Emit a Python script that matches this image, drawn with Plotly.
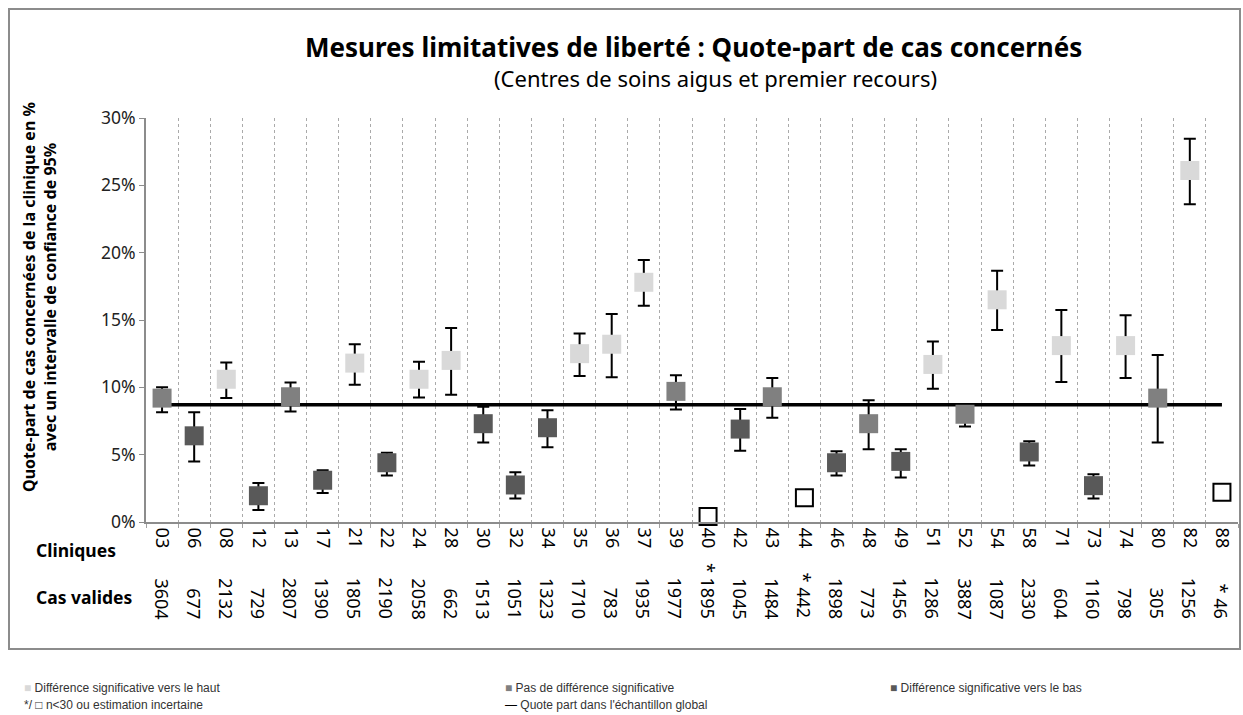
import plotly.graph_objects as go

# Clinic codes, valid cases (with * = n<30 / uncertain), rates and 95% CI (in %)
clinics = ["03", "06", "08", "12", "13", "17", "21", "22", "24", "28", "30", "32",
           "34", "35", "36", "37", "39", "40", "42", "43", "44", "46", "48", "49",
           "51", "52", "54", "58", "71", "73", "74", "80", "82", "88"]
cas_valides = ["3604", "677", "2132", "729", "2807", "1390", "1805", "2190", "2058",
               "662", "1513", "1051", "1323", "1710", "783", "1935", "1977", "* 1895",
               "1045", "1484", "* 442", "1898", "773", "1456", "1286", "3887", "1087",
               "2330", "604", "1160", "798", "305", "1256", "* 46"]
rate = [9.2, 6.4, 10.6, 1.95, 9.3, 3.1, 11.8, 4.4, 10.6, 12.0, 7.3, 2.75,
        7.0, 12.5, 13.2, 17.8, 9.7, 0.4, 6.9, 9.3, 1.8, 4.4, 7.3, 4.5,
        11.7, 8.0, 16.5, 5.2, 13.1, 2.7, 13.1, 9.2, 26.1, 2.2]
ci_low = [8.15, 4.5, 9.2, 0.9, 8.2, 2.15, 10.2, 3.45, 9.25, 9.45, 5.9, 1.75,
          5.55, 10.85, 10.75, 16.05, 8.35, None, 5.3, 7.75, None, 3.45, 5.4, 3.3,
          9.9, 7.1, 14.25, 4.2, 10.4, 1.75, 10.7, 5.9, 23.6, None]
ci_high = [10.0, 8.15, 11.85, 2.9, 10.35, 3.85, 13.2, 5.15, 11.9, 14.4, 8.55, 3.7,
           8.3, 14.0, 15.45, 19.45, 10.9, None, 8.4, 10.7, None, 5.25, 9.05, 5.4,
           13.4, 8.75, 18.65, 6.0, 15.75, 3.55, 15.35, 12.4, 28.45, None]
# haut = higher, pas = no difference, bas = lower, inc = uncertain
group = ["pas", "bas", "haut", "bas", "pas", "bas", "haut", "bas", "haut", "haut",
         "bas", "bas", "bas", "haut", "haut", "haut", "pas", "inc", "bas", "pas",
         "inc", "bas", "pas", "bas", "haut", "pas", "haut", "bas", "haut", "bas",
         "haut", "pas", "haut", "inc"]
overall = 8.7

_COLORS = {"haut": "#d9d9d9", "pas": "#808080", "bas": "#595959"}
_FONT = "Noto Sans, Open Sans, sans-serif"
_LEG_FONT = "Liberation Sans Narrow, Arial Narrow, Liberation Sans, sans-serif"

W, H = 1243, 715
L, R, T, B = 146, 1238, 118, 522


def px(x):
    return (x - L) / (R - L)


def py(y):
    return (B - y) / (B - T)


fig = go.Figure()

# overall sample rate line
fig.add_trace(go.Scatter(
    x=clinics, y=[overall] * len(clinics), mode="lines",
    line=dict(color="black", width=3.5), hoverinfo="skip", showlegend=False,
))

for key, color in _COLORS.items():
    idx = [i for i, g in enumerate(group) if g == key]
    fig.add_trace(go.Scatter(
        x=[clinics[i] for i in idx],
        y=[rate[i] for i in idx],
        mode="markers",
        marker=dict(symbol="square", size=19, color=color, line=dict(width=0)),
        error_y=dict(
            type="data", symmetric=False,
            array=[ci_high[i] - rate[i] for i in idx],
            arrayminus=[rate[i] - ci_low[i] for i in idx],
            color="black", thickness=2, width=6,
        ),
        cliponaxis=False, showlegend=False,
    ))

idx = [i for i, g in enumerate(group) if g == "inc"]
fig.add_trace(go.Scatter(
    x=[clinics[i] for i in idx],
    y=[rate[i] for i in idx],
    mode="markers",
    marker=dict(symbol="square", size=17, color="white",
                line=dict(color="black", width=2)),
    cliponaxis=False, showlegend=False,
))

annotations = [
    dict(x=px(693), y=py(47), text="<b>Mesures limitatives de liberté : Quote-part de cas concernés</b>",
         font=dict(size=26, color="black")),
    dict(x=px(715), y=py(78), text="(Centres de soins aigus et premier recours)",
         font=dict(size=22, color="black")),
    dict(x=px(39), y=py(297), textangle=-90,
         text="<b>Quote-part de cas concernées de la clinique en %<br>avec un intervalle de confiance de 95%</b>",
         font=dict(size=16, color="black")),
    dict(x=px(34), y=py(550), xanchor="left", text="<b>Cliniques</b>",
         font=dict(size=17.5, color="black")),
    dict(x=px(34), y=py(597), xanchor="left", text="<b>Cas valides</b>",
         font=dict(size=17.5, color="black")),
]
for k in range(len(annotations)):
    annotations[k].setdefault("xanchor", "center")
    annotations[k].update(xref="paper", yref="paper", yanchor="middle", showarrow=False)

# category index positions (codes like "03" would be read as numbers)
for i, n in enumerate(cas_valides):
    annotations.append(dict(
        x=i, xref="x", y=py(621), yref="paper", text=n, textangle=90,
        xanchor="center", yanchor="bottom", showarrow=False,
        font=dict(size=18, color="black"),
    ))

legend_items = [
    (22, 688, f"<span style='color:{_COLORS['haut']}'>■</span> Différence significative vers le haut"),
    (503, 688, f"<span style='color:{_COLORS['pas']}'>■</span> Pas de différence significative"),
    (888, 688, f"<span style='color:{_COLORS['bas']}'>■</span> Différence significative vers le bas"),
    (22, 705, "*/ □ n<30 ou estimation incertaine"),
    (503, 705, "<span style='color:black'>—</span> Quote part dans l'échantillon global"),
]
for x0, y0, t in legend_items:
    annotations.append(dict(
        x=px(x0), y=py(y0), xref="paper", yref="paper", text=t,
        xanchor="left", yanchor="middle", showarrow=False,
        font=dict(size=12, color="#333333", family=_LEG_FONT),
    ))

fig.update_layout(
    width=W, height=H,
    margin=dict(l=L, r=W - R, t=T, b=H - B),
    plot_bgcolor="white", paper_bgcolor="white",
    font=dict(family=_FONT, color="black"),
    annotations=annotations,
    shapes=[dict(type="rect", xref="paper", yref="paper",
                 x0=px(9), x1=px(1240), y0=py(9), y1=py(649),
                 line=dict(color="#8c8c8c", width=2))],
    xaxis=dict(
        type="category", categoryorder="array", categoryarray=clinics,
        range=[-0.5, len(clinics) - 0.5],
        tickson="boundaries", ticks="outside", ticklen=4, tickcolor="#a0a0a0",
        showgrid=True, gridcolor="#aaaaaa", griddash="dot", gridwidth=1,
        showline=True, linecolor="#8c8c8c", linewidth=2,
        tickangle=90, tickfont=dict(size=18, color="black"),
        zeroline=False,
    ),
    yaxis=dict(
        range=[0, 30], dtick=5, ticksuffix="%",
        showgrid=False, zeroline=False,
        showline=True, linecolor="#8c8c8c", linewidth=2,
        ticks="outside", ticklen=5, tickcolor="#8c8c8c",
        tickfont=dict(size=17.5, color="#222222"),
    ),
)

fig.write_html(
    "out.html",
    config={"displayModeBar": False},
    post_script="document.body.style.margin='0';document.body.style.overflow='hidden';",
)
